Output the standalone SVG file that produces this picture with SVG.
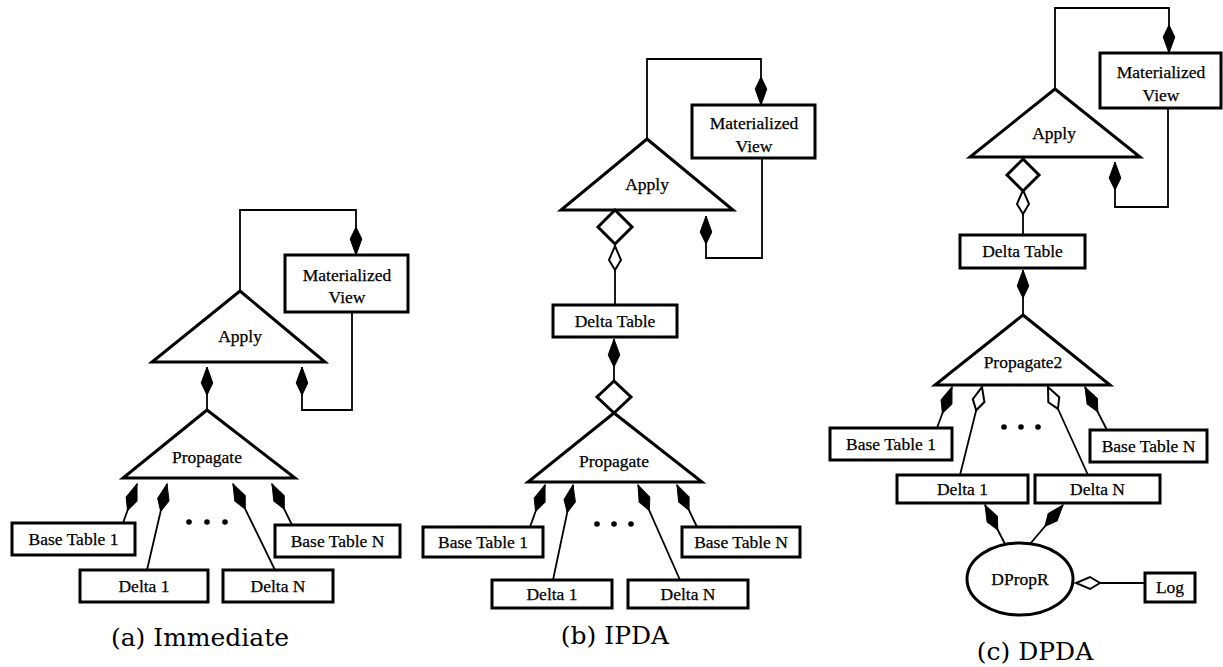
<svg xmlns="http://www.w3.org/2000/svg" width="1223" height="667" viewBox="0 0 1223 667">
<style>
.box{fill:#fff;stroke:#000;stroke-width:3}
.tri{fill:#fff;stroke:#000;stroke-width:3;stroke-linejoin:miter}
.dia{fill:#fff;stroke:#000;stroke-width:3}
.ln{fill:none;stroke:#000;stroke-width:1.8}
.lbl{font-family:"Liberation Serif","Times New Roman",serif;font-size:17.5px;text-anchor:middle;fill:#000;stroke:#000;stroke-width:0.25}
.cap{font-family:"DejaVu Serif",serif;font-size:25px;text-anchor:middle;fill:#000}
.dot{fill:#000}
</style>
<defs>
<marker id="fa" markerUnits="userSpaceOnUse" orient="auto" refX="28" refY="0" markerWidth="30" markerHeight="14" overflow="visible">
<path d="M0,0 L12,-5.8 L28,0 L12,5.8 Z" fill="#000" stroke="#000" stroke-width="1"/>
</marker>
<marker id="ha" markerUnits="userSpaceOnUse" orient="auto" refX="24" refY="0" markerWidth="26" markerHeight="14" overflow="visible">
<path d="M0,0 L10,-6 L24,0 L10,6 Z" fill="#fff" stroke="#000" stroke-width="2"/>
</marker>
</defs>
<rect width="1223" height="667" fill="#fff"/>

<!-- ===== (a) Immediate ===== -->
<g id="connectors-a">
<path class="ln" d="M240,291 V210 H356 V255" marker-end="url(#fa)"/>
<path class="ln" d="M352,312 V410 H302 V367" marker-end="url(#fa)"/>
<path class="ln" d="M207,410 V367" marker-end="url(#fa)"/>
<path class="ln" d="M123,523 L137,484" marker-end="url(#fa)"/>
<path class="ln" d="M147,570 L167,484" marker-end="url(#fa)"/>
<path class="ln" d="M275,570 L233,484" marker-end="url(#fa)"/>
<path class="ln" d="M292,525 L272,484" marker-end="url(#fa)"/>
</g>
<g id="a-apply"><polygon class="tri" points="240,291 325,362 152,362"/><text class="lbl" x="240" y="342">Apply</text></g>
<g id="a-mview"><rect class="box" x="285" y="255" width="123" height="57"/><text class="lbl" x="347" y="281">Materialized</text><text class="lbl" x="347" y="303">View</text></g>
<g id="a-propagate"><polygon class="tri" points="207,410 295,478 123,478"/><text class="lbl" x="207" y="463">Propagate</text></g>
<g id="a-base1"><rect class="box" x="12" y="523" width="123" height="32"/><text class="lbl" x="73.5" y="545">Base Table 1</text></g>
<g id="a-delta1"><rect class="box" x="80" y="570" width="128" height="32"/><text class="lbl" x="144" y="592">Delta 1</text></g>
<g id="a-deltaN"><rect class="box" x="223" y="570" width="110" height="32"/><text class="lbl" x="278" y="592">Delta N</text></g>
<g id="a-baseN"><rect class="box" x="275" y="525" width="125" height="32"/><text class="lbl" x="337.5" y="547">Base Table N</text></g>
<g id="a-dots"><circle class="dot" cx="189" cy="522" r="2.8"/><circle class="dot" cx="207" cy="522" r="2.8"/><circle class="dot" cx="225" cy="522" r="2.8"/></g>
<text class="cap" x="200" y="646">(a) Immediate</text>

<!-- ===== (b) IPDA ===== -->
<g id="connectors-b">
<path class="ln" d="M647,139 V59 H761 V105" marker-end="url(#fa)"/>
<path class="ln" d="M762,158 V258 H706 V216" marker-end="url(#fa)"/>
<path class="ln" d="M615,305 V246" marker-end="url(#ha)"/>
<path class="ln" d="M614,381 V339" marker-end="url(#fa)"/>
<path class="ln" d="M530,527 L545,485" marker-end="url(#fa)"/>
<path class="ln" d="M553,580 L573,485" marker-end="url(#fa)"/>
<path class="ln" d="M680,580 L638,485" marker-end="url(#fa)"/>
<path class="ln" d="M697,527 L677,485" marker-end="url(#fa)"/>
</g>
<g id="b-apply"><polygon class="tri" points="647,139 733,210 561,210"/><text class="lbl" x="647" y="190">Apply</text></g>
<g id="b-diamond1"><polygon class="dia" points="615,210 632,227 615,244 598,227"/></g>
<g id="b-mview"><rect class="box" x="692" y="105" width="123" height="53"/><text class="lbl" x="754" y="129">Materialized</text><text class="lbl" x="754" y="152">View</text></g>
<g id="b-deltatable"><rect class="box" x="553" y="305" width="124" height="32"/><text class="lbl" x="615" y="327">Delta Table</text></g>
<g id="b-propagate"><polygon class="tri" points="614,413 702,482 528,482"/><text class="lbl" x="614" y="467">Propagate</text></g>
<g id="b-diamond2"><polygon class="dia" points="614,381 631,397 614,413 597,397"/></g>
<g id="b-base1"><rect class="box" x="423" y="527" width="120" height="30"/><text class="lbl" x="483" y="548">Base Table 1</text></g>
<g id="b-delta1"><rect class="box" x="492" y="580" width="120" height="28"/><text class="lbl" x="552" y="600">Delta 1</text></g>
<g id="b-deltaN"><rect class="box" x="628" y="580" width="120" height="28"/><text class="lbl" x="688" y="600">Delta N</text></g>
<g id="b-baseN"><rect class="box" x="682" y="527" width="118" height="30"/><text class="lbl" x="741" y="548">Base Table N</text></g>
<g id="b-dots"><circle class="dot" cx="597" cy="524" r="2.8"/><circle class="dot" cx="614" cy="524" r="2.8"/><circle class="dot" cx="631" cy="524" r="2.8"/></g>
<text class="cap" x="615" y="644">(b) IPDA</text>

<!-- ===== (c) DPDA ===== -->
<g id="connectors-c">
<path class="ln" d="M1055,89 V8 H1169 V53" marker-end="url(#fa)"/>
<path class="ln" d="M1168,108 V207 H1115 V162" marker-end="url(#fa)"/>
<path class="ln" d="M1023,235 V190" marker-end="url(#ha)"/>
<path class="ln" d="M1023,315 V270" marker-end="url(#fa)"/>
<path class="ln" d="M937,428 L952,387" marker-end="url(#fa)"/>
<path class="ln" d="M960,475 L982,387" marker-end="url(#ha)"/>
<path class="ln" d="M1088,475 L1048,387" marker-end="url(#ha)"/>
<path class="ln" d="M1107,430 L1085,387" marker-end="url(#fa)"/>
<path class="ln" d="M1005,544 L985,505" marker-end="url(#fa)"/>
<path class="ln" d="M1030,544 L1063,505" marker-end="url(#fa)"/>
<path class="ln" d="M1145,583 H1076" marker-end="url(#ha)"/>
</g>
<g id="c-apply"><polygon class="tri" points="1055,89 1140,157 970,157"/><text class="lbl" x="1054" y="139">Apply</text></g>
<g id="c-diamond"><polygon class="dia" points="1023,159 1039,175 1023,191 1007,175"/></g>
<g id="c-mview"><rect class="box" x="1100" y="53" width="121" height="55"/><text class="lbl" x="1161" y="78">Materialized</text><text class="lbl" x="1161" y="101">View</text></g>
<g id="c-deltatable"><rect class="box" x="960" y="235" width="125" height="33"/><text class="lbl" x="1022.5" y="257">Delta Table</text></g>
<g id="c-propagate2"><polygon class="tri" points="1023,315 1110,385 935,385"/><text class="lbl" x="1023" y="368">Propagate2</text></g>
<g id="c-base1"><rect class="box" x="830" y="428" width="122" height="32"/><text class="lbl" x="891" y="450">Base Table 1</text></g>
<g id="c-delta1"><rect class="box" x="897" y="475" width="131" height="28"/><text class="lbl" x="962.5" y="495">Delta 1</text></g>
<g id="c-deltaN"><rect class="box" x="1035" y="475" width="125" height="28"/><text class="lbl" x="1097.5" y="495">Delta N</text></g>
<g id="c-baseN"><rect class="box" x="1090" y="430" width="117" height="32"/><text class="lbl" x="1148.5" y="452">Base Table N</text></g>
<g id="c-dots"><circle class="dot" cx="1004" cy="427" r="2.8"/><circle class="dot" cx="1021" cy="427" r="2.8"/><circle class="dot" cx="1038" cy="427" r="2.8"/></g>
<g id="c-dpropr"><ellipse cx="1020" cy="579" rx="53" ry="36" fill="#fff" stroke="#000" stroke-width="3"/><text class="lbl" x="1020" y="585">DPropR</text></g>
<g id="c-log"><rect class="box" x="1145" y="573" width="50" height="29"/><text class="lbl" x="1170" y="593">Log</text></g>
<text class="cap" x="1035" y="660">(c) DPDA</text>
</svg>
